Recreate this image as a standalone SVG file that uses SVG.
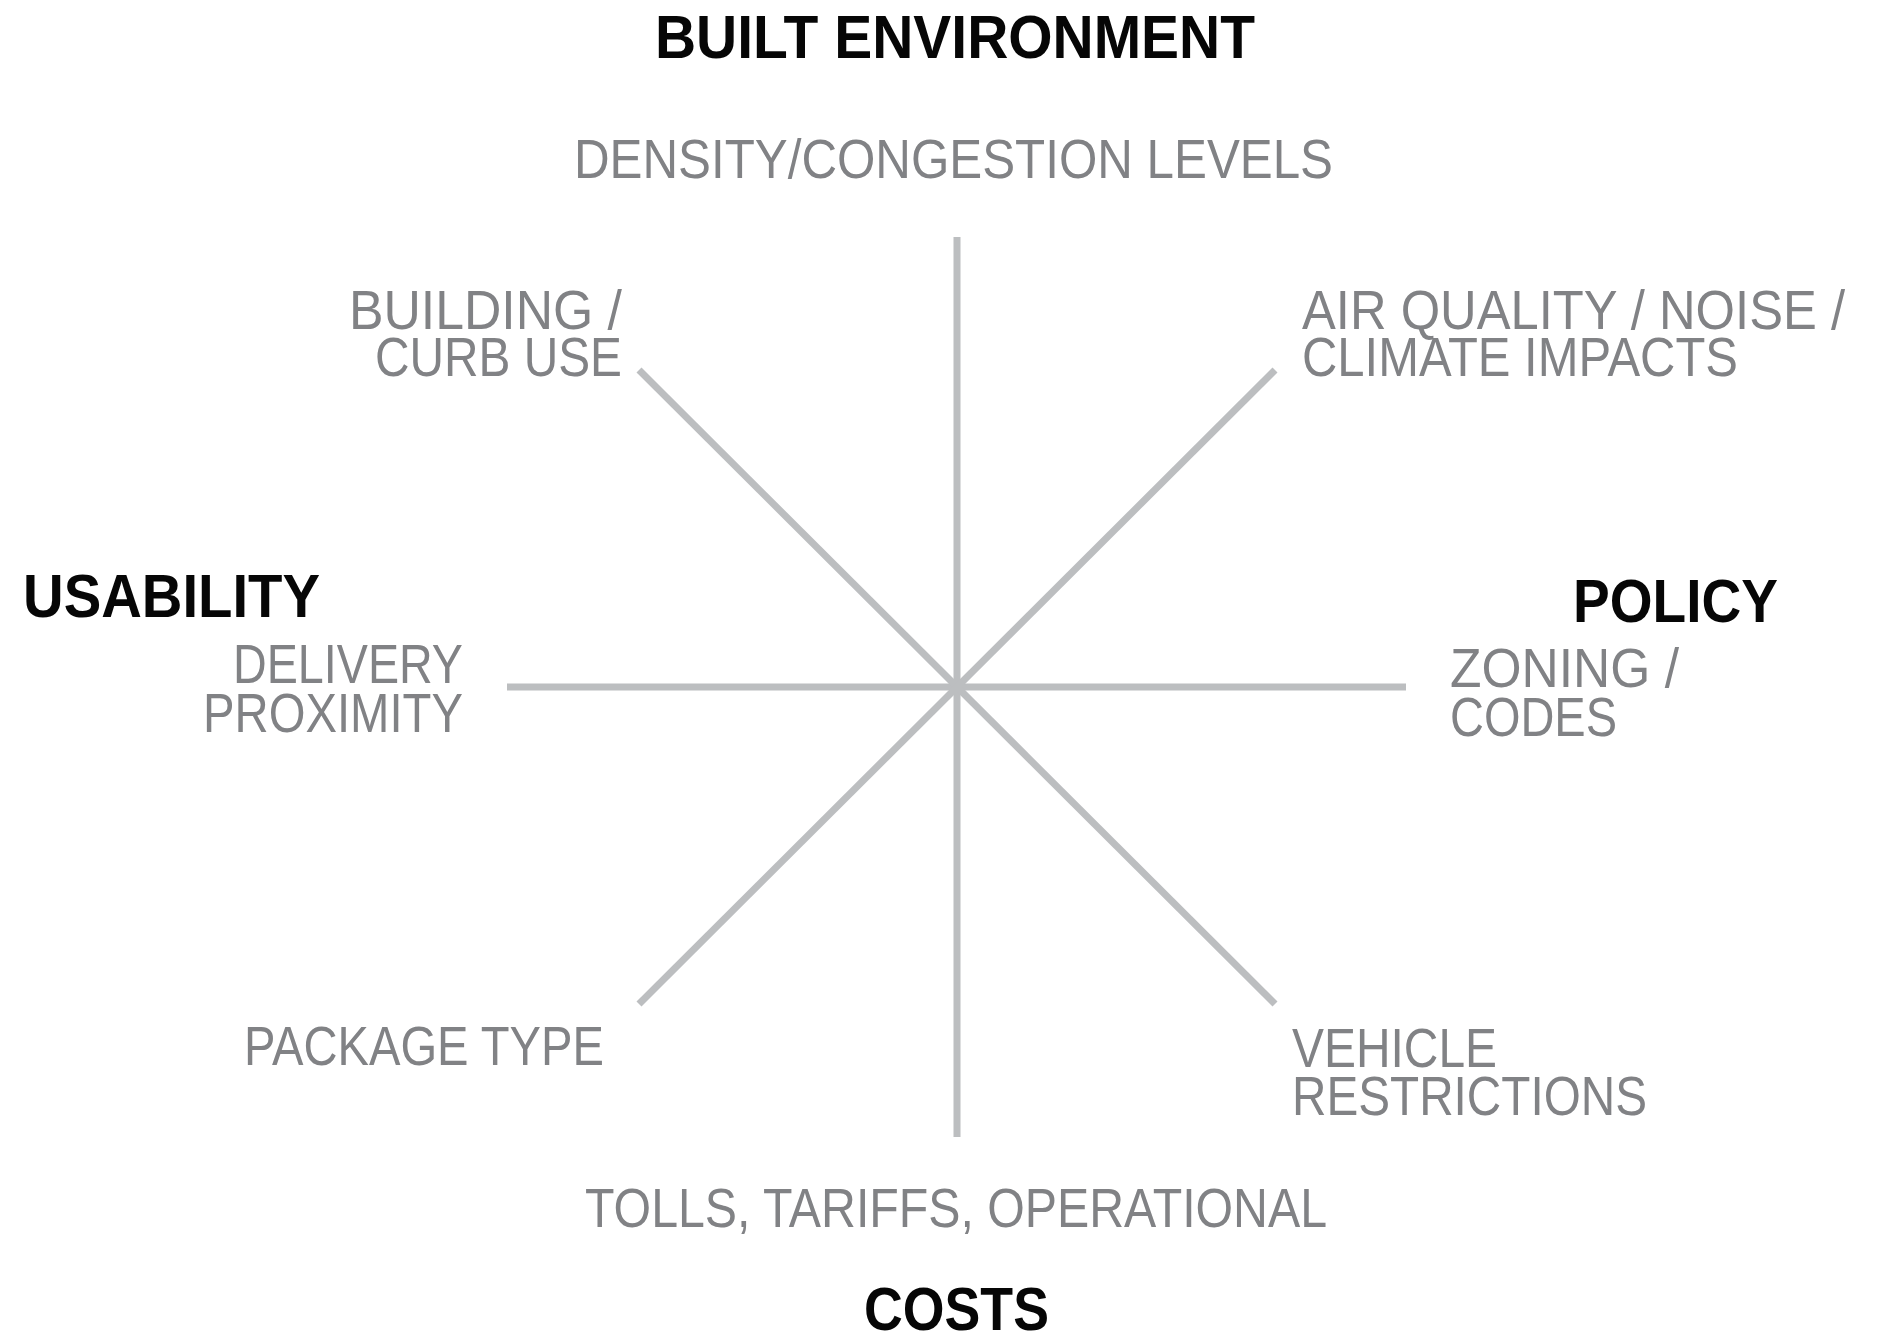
<svg xmlns="http://www.w3.org/2000/svg" width="1891" height="1333" viewBox="0 0 1891 1333">
  <style>
    .axis { stroke: #bcbec0; stroke-width: 7; stroke-linecap: butt; fill: none; }
    .head { font-family: "Liberation Sans", Arial, sans-serif; font-weight: 700; fill: #060606; font-size: 61px; }
    .item { font-family: "Liberation Sans", Arial, sans-serif; font-weight: 400; fill: #818285; font-size: 56px; }
  </style>
  <rect x="0" y="0" width="1891" height="1333" fill="#ffffff"/>

  <!-- eight spokes radiating from the centre -->
  <g id="connectors">
    <line class="axis" x1="957" y1="237" x2="957" y2="1137"/>
    <line class="axis" x1="507" y1="687" x2="1406" y2="687"/>
    <line class="axis" x1="639" y1="370" x2="1275" y2="1004"/>
    <line class="axis" x1="1275" y1="370" x2="639" y2="1004"/>
  </g>

  <!-- category headings -->
  <g id="built-environment">
    <text class="head" x="655" y="58" textLength="600" lengthAdjust="spacingAndGlyphs">BUILT ENVIRONMENT</text>
  </g>
  <g id="usability">
    <text class="head" x="23" y="617" textLength="297" lengthAdjust="spacingAndGlyphs">USABILITY</text>
  </g>
  <g id="policy">
    <text class="head" x="1573" y="622" textLength="205" lengthAdjust="spacingAndGlyphs">POLICY</text>
  </g>
  <g id="costs">
    <text class="head" x="864" y="1330" textLength="185" lengthAdjust="spacingAndGlyphs">COSTS</text>
  </g>

  <!-- factors at the spoke ends -->
  <g id="density">
    <text class="item" x="574" y="178" textLength="759" lengthAdjust="spacingAndGlyphs">DENSITY/CONGESTION LEVELS</text>
  </g>
  <g id="building-curb">
    <text class="item" x="349" y="329" textLength="273" lengthAdjust="spacingAndGlyphs">BUILDING /</text>
    <text class="item" x="375" y="376" textLength="247" lengthAdjust="spacingAndGlyphs">CURB USE</text>
  </g>
  <g id="air-quality">
    <text class="item" x="1302" y="329" textLength="543" lengthAdjust="spacingAndGlyphs">AIR QUALITY / NOISE /</text>
    <text class="item" x="1302" y="376" textLength="436" lengthAdjust="spacingAndGlyphs">CLIMATE IMPACTS</text>
  </g>
  <g id="delivery-proximity">
    <text class="item" x="233" y="683" textLength="230" lengthAdjust="spacingAndGlyphs">DELIVERY</text>
    <text class="item" x="203" y="732" textLength="260" lengthAdjust="spacingAndGlyphs">PROXIMITY</text>
  </g>
  <g id="zoning-codes">
    <text class="item" x="1450" y="687" textLength="229" lengthAdjust="spacingAndGlyphs">ZONING /</text>
    <text class="item" x="1450" y="736" textLength="167" lengthAdjust="spacingAndGlyphs">CODES</text>
  </g>
  <g id="package-type">
    <text class="item" x="244" y="1065" textLength="360" lengthAdjust="spacingAndGlyphs">PACKAGE TYPE</text>
  </g>
  <g id="vehicle-restrictions">
    <text class="item" x="1292" y="1067" textLength="205" lengthAdjust="spacingAndGlyphs">VEHICLE</text>
    <text class="item" x="1292" y="1115" textLength="355" lengthAdjust="spacingAndGlyphs">RESTRICTIONS</text>
  </g>
  <g id="tolls">
    <text class="item" x="585" y="1227" textLength="742" lengthAdjust="spacingAndGlyphs">TOLLS, TARIFFS, OPERATIONAL</text>
  </g>
</svg>
